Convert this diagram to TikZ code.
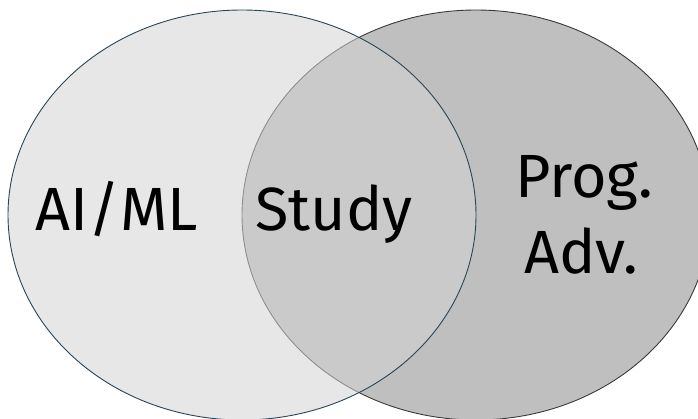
\documentclass[tikz,border=0pt]{standalone}
\usepackage{fontspec}
\setmainfont{Fira Sans}
\usepackage{tikz}
\usetikzlibrary{
  shapes.geometric
}
\definecolor{aiedge}{HTML}{2B4556}
\definecolor{progedge}{HTML}{3A3A3A}
\definecolor{progfill}{HTML}{BFBFBF}
\definecolor{aifill}{HTML}{D4D4D4}
\tikzset{
  x=1pt, y=1pt,
  every set/.style={ellipse, inner sep=0pt, line width=0.9pt,
    minimum width=468pt, minimum height=410pt},
  venntext/.style={anchor=base, inner sep=0pt,
    font=\fontsize{61}{72}\selectfont}
}

\begin{document}
\begin{tikzpicture}
    \useasboundingbox (0,0) rectangle (698,-418);
    \clip (0,0) rectangle (698,-418);

    \node[every set, draw=progedge, fill=progfill] (prog) at (476,-215) {};
    \node[every set, draw=aiedge, fill=aifill, fill opacity=0.55] (ai) at (242,-215) {};

    \node[venntext] (aiml)  at (117,-230) {AI/ML};
    \node[venntext] (study) at (334,-230) {Study};
    \node[venntext] (progr) at (584,-197) {Prog.};
    \node[venntext] (adv)   at (581,-273) {Adv.};
  \end{tikzpicture}
\end{document}
